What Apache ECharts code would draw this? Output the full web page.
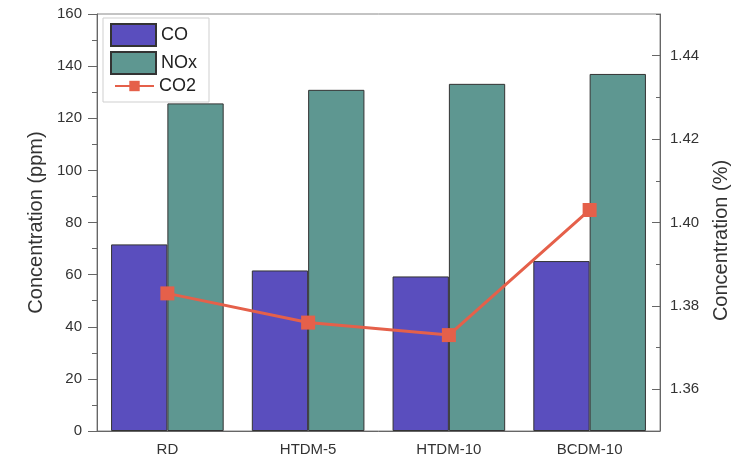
<!DOCTYPE html>
<html>
<head>
<meta charset="utf-8">
<script src="https://cdn.jsdelivr.net/npm/echarts@6/dist/echarts.min.js"></script>
<style>html,body{margin:0;padding:0;background:#fff;}#c{width:745px;height:461px;}</style>
</head>
<body>
<div id="c"></div>
<script>
var categories = ['RD', 'HTDM-5', 'HTDM-10', 'BCDM-10'];
var coValues = [71.6, 61.6, 59.3, 65.2];
var noxValues = [125.7, 130.9, 133.2, 137.0];
var co2Values = [1.383, 1.376, 1.373, 1.403];
var rightTickLabels = [1.36, 1.38, 1.40, 1.42, 1.44];

var font = "'Liberation Sans', Arial, sans-serif";
var axisColor = '#666';
var chart = echarts.init(document.getElementById('c'), null, {renderer: 'canvas'});
chart.setOption({
  animation: false,
  backgroundColor: '#fff',
  textStyle: {fontFamily: font},
  grid: {left: 97, right: 85, top: 14, bottom: 30, show: true, borderColor: '#888', borderWidth: 1, containLabel: false},
  legend: [
    {
      orient: 'vertical', left: 103, top: 18,
      borderColor: '#cfcfcf', borderWidth: 1,
      padding: [5, 12, 27, 7], itemGap: 4,
      itemWidth: 45, itemHeight: 22, icon: 'rect',
      textStyle: {fontSize: 18, color: '#222', fontFamily: font},
      data: ['CO', 'NOx']
    },
    {
      orient: 'vertical', left: 114, top: 77,
      padding: 0, itemWidth: 39, itemHeight: 13,
      textStyle: {fontSize: 18, color: '#222', fontFamily: font},
      data: ['CO2']
    }
  ],
  xAxis: [
    {type: 'category', data: categories, position: 'bottom',
     axisLine: {lineStyle: {color: axisColor, width: 1}},
     axisTick: {alignWithLabel: true, length: 8, lineStyle: {color: axisColor}},
     axisLabel: {color: '#333', fontSize: 15, margin: 11, fontFamily: font},
     splitLine: {show: false}},
    {type: 'category', data: categories, position: 'bottom',
     axisLine: {show: false},
     axisTick: {alignWithLabel: false, length: 4, lineStyle: {color: axisColor}},
     axisLabel: {show: false}, splitLine: {show: false}}
  ],
  yAxis: [
    {type: 'value', min: 0, max: 160, interval: 20, position: 'left',
     name: 'Concentration (ppm)', nameLocation: 'middle', nameGap: 51, nameRotate: 90,
     nameTextStyle: {fontSize: 20, color: '#333', fontFamily: font},
     axisLine: {show: true, lineStyle: {color: axisColor}},
     axisTick: {show: true, inside: false, length: 9, lineStyle: {color: axisColor}},
     minorTick: {show: true, splitNumber: 2, length: 5, lineStyle: {color: axisColor}},
     axisLabel: {color: '#333', fontSize: 15, margin: 15, fontFamily: font},
     splitLine: {show: false}},
    {type: 'value', min: 1.35, max: 1.45, position: 'right',
     name: 'Concentration (%)', nameLocation: 'middle', nameGap: 51, nameRotate: 90,
     nameTextStyle: {fontSize: 20, color: '#333', fontFamily: font, padding: [0, 36, 0, 0]},
     axisLine: {show: true, lineStyle: {color: axisColor}},
     axisTick: {show: true, inside: true, length: 8, customValues: rightTickLabels, lineStyle: {color: axisColor}},
     axisLabel: {color: '#333', fontSize: 15, margin: 10, fontFamily: font, customValues: rightTickLabels,
                 formatter: function (v) { return v.toFixed(2); }},
     splitLine: {show: false}},
    {type: 'value', min: 1.35, max: 1.45, interval: 0.01, position: 'right',
     axisLine: {show: false},
     axisTick: {show: true, inside: true, length: 4, lineStyle: {color: axisColor}},
     axisLabel: {show: false}, splitLine: {show: false}}
  ],
  series: [
    {name: 'CO', type: 'bar', xAxisIndex: 0, yAxisIndex: 0, data: coValues,
     barGap: '0%', barCategoryGap: '20%',
     itemStyle: {color: '#5A4EBE', borderColor: '#333', borderWidth: 1}},
    {name: 'NOx', type: 'bar', xAxisIndex: 0, yAxisIndex: 0, data: noxValues,
     barGap: '0%', barCategoryGap: '20%',
     itemStyle: {color: '#5E9791', borderColor: '#333', borderWidth: 1}},
    {name: 'CO2', type: 'line', xAxisIndex: 0, yAxisIndex: 1, data: co2Values,
     symbol: 'rect', symbolSize: 14,
     lineStyle: {color: '#E5604A', width: 3},
     itemStyle: {color: '#E5604A'}}
  ]
});
</script>
</body>
</html>
